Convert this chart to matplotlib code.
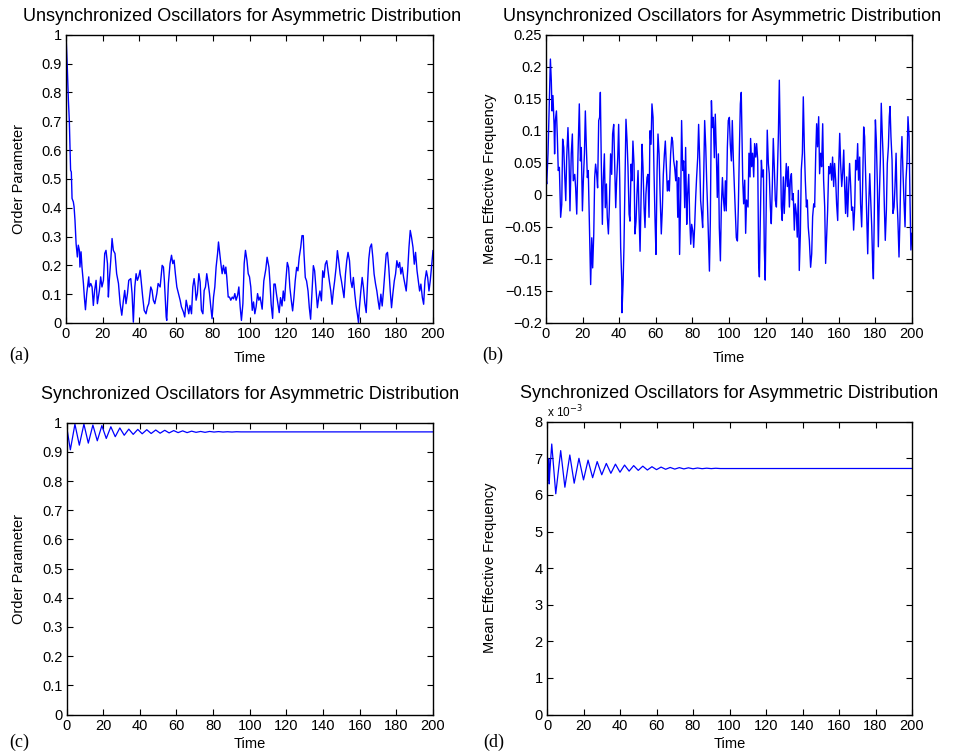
import numpy as np
import matplotlib
matplotlib.use('Agg')
import matplotlib.pyplot as plt
from matplotlib import font_manager
from matplotlib.ticker import FuncFormatter

# ---------------- data ----------------
time_a = [0.0, 0.7, 1.3, 1.8, 2.5, 2.9, 3.3, 4.0, 4.4, 4.9, 5.5, 6.2, 6.7, 7.3, 7.6, 8.2, 8.7, 9.5,
          10.0, 10.6, 11.3, 12.4, 12.7, 13.5, 14.2, 14.9, 15.6, 16.4, 17.1, 18.2, 18.9, 19.6, 20.4,
          21.1, 21.8, 22.6, 23.1, 23.6, 24.4, 25.1, 25.8, 26.7, 27.6, 28.6, 29.5, 30.4, 31.3, 32.0,
          32.7, 33.5, 34.2, 35.3, 36.0, 36.7, 37.5, 38.2, 38.9, 39.6, 40.4, 41.1, 41.8, 42.6, 43.6,
          44.4, 45.1, 46.2, 46.9, 47.6, 48.4, 49.5, 50.2, 51.3, 52.4, 53.1, 53.6, 54.6, 54.9, 55.8,
          56.7, 57.5, 58.2, 58.9, 59.6, 60.4, 61.3, 62.2, 62.9, 64.0, 64.7, 65.5, 66.2, 66.9, 67.6,
          68.4, 69.1, 69.8, 70.4, 70.9, 71.6, 72.4, 73.1, 73.8, 74.6, 75.3, 76.0, 76.7, 77.5, 78.2,
          78.9, 79.6, 80.4, 81.1, 81.8, 82.6, 83.1, 83.6, 84.4, 85.1, 85.8, 86.6, 87.1, 87.6, 88.4,
          89.1, 89.8, 90.6, 91.3, 92.0, 92.7, 93.5, 94.2, 94.9, 95.6, 96.4, 97.1, 97.8, 98.6, 99.3,
          100.0, 100.7, 101.5, 102.2, 102.9, 103.6, 104.4, 105.1, 105.8, 106.9, 107.8, 108.9,
          109.6, 110.6, 111.1, 111.8, 112.6, 113.3, 114.0, 114.7, 115.5, 116.2, 116.9, 117.7, 118.4,
          119.1, 119.8, 120.6, 121.3, 122.0, 122.8, 123.5, 124.2, 124.9, 125.7, 126.4, 127.1, 127.9,
          128.6, 129.3, 129.7, 130.4, 131.1, 131.9, 132.6, 133.3, 134.1, 134.8, 135.5, 136.2, 137.0,
          137.7, 138.4, 139.2, 139.9, 140.6, 141.3, 142.1, 142.8, 143.5, 144.3, 145.0, 145.7, 146.4,
          147.2, 147.9, 148.6, 149.4, 150.1, 150.8, 151.5, 152.3, 153.0, 153.7, 154.5, 155.2, 155.9,
          156.6, 157.4, 158.1, 158.8, 159.4, 159.9, 160.6, 161.4, 162.1, 162.8, 163.6, 164.3, 165.0,
          165.7, 166.5, 167.2, 167.9, 168.7, 169.4, 170.1, 170.8, 171.6, 172.3, 173.0, 173.8, 174.5,
          175.2, 175.9, 176.7, 177.4, 178.1, 178.9, 179.6, 180.3, 181.1, 181.8, 182.5, 183.2, 184.0,
          184.7, 185.4, 186.2, 186.9, 187.6, 188.3, 189.1, 189.8, 190.5, 191.3, 192.0, 192.7, 193.4,
          194.2, 194.9, 195.6, 196.4, 197.1, 197.8, 198.5, 199.3, 200.0]
order_unsync = [1.0, 0.889, 0.773, 0.704, 0.530, 0.524, 0.432, 0.420, 0.403, 0.356, 0.275, 0.229,
                0.270, 0.252, 0.194, 0.247, 0.194, 0.137, 0.090, 0.046, 0.102, 0.160, 0.125, 0.137,
                0.125, 0.061, 0.113, 0.148, 0.067, 0.113, 0.160, 0.125, 0.148, 0.241, 0.252, 0.206,
                0.090, 0.148, 0.218, 0.293, 0.252, 0.241, 0.171, 0.137, 0.067, 0.027, 0.079, 0.113,
                0.067, 0.102, 0.148, 0.154, 0.102, 0.003, 0.125, 0.171, 0.148, 0.160, 0.183, 0.137,
                0.090, 0.044, 0.032, 0.056, 0.067, 0.125, 0.113, 0.079, 0.067, 0.102, 0.137, 0.125,
                0.200, 0.194, 0.148, 0.021, 0.009, 0.137, 0.206, 0.235, 0.206, 0.218, 0.171, 0.125,
                0.102, 0.079, 0.056, 0.038, 0.021, 0.079, 0.056, 0.032, 0.061, 0.032, 0.125, 0.154,
                0.125, 0.079, 0.102, 0.171, 0.142, 0.044, 0.032, 0.113, 0.125, 0.171, 0.137, 0.102,
                0.056, 0.015, 0.090, 0.125, 0.194, 0.241, 0.281, 0.252, 0.206, 0.171, 0.200, 0.171,
                0.194, 0.160, 0.090, 0.090, 0.079, 0.090, 0.084, 0.102, 0.079, 0.096, 0.125, 0.056,
                0.009, 0.067, 0.206, 0.252, 0.218, 0.171, 0.160, 0.125, 0.044, 0.073, 0.032, 0.056,
                0.102, 0.079, 0.090, 0.048, 0.146, 0.187, 0.228, 0.193, 0.146, 0.065, 0.016, 0.135,
                0.135, 0.100, 0.065, 0.036, 0.088, 0.059, 0.111, 0.077, 0.146, 0.210, 0.193, 0.123,
                0.077, 0.042, 0.088, 0.146, 0.193, 0.181, 0.228, 0.262, 0.303, 0.303, 0.239, 0.158,
                0.146, 0.111, 0.053, 0.013, 0.111, 0.199, 0.181, 0.123, 0.053, 0.088, 0.111, 0.077,
                0.181, 0.158, 0.204, 0.216, 0.181, 0.146, 0.111, 0.065, 0.111, 0.146, 0.193, 0.251,
                0.216, 0.170, 0.146, 0.117, 0.088, 0.170, 0.216, 0.245, 0.216, 0.146, 0.123, 0.158,
                0.100, 0.059, 0.030, 0.001, 0.053, 0.106, 0.158, 0.123, 0.071, 0.036, 0.135, 0.222,
                0.262, 0.274, 0.228, 0.170, 0.135, 0.111, 0.077, 0.048, 0.100, 0.059, 0.111, 0.181,
                0.239, 0.245, 0.193, 0.111, 0.053, 0.100, 0.146, 0.170, 0.216, 0.193, 0.210, 0.170,
                0.193, 0.158, 0.135, 0.111, 0.181, 0.262, 0.321, 0.297, 0.262, 0.204, 0.245, 0.181,
                0.146, 0.111, 0.135, 0.088, 0.065, 0.146, 0.181, 0.158, 0.111, 0.146, 0.204, 0.251]

time_b = [0.0, 0.4, 1.1, 1.8, 2.4, 2.9, 3.3, 3.8, 4.4, 4.7, 5.1, 5.7, 6.2, 6.7, 7.3, 8.0, 8.6, 9.1,
          9.7, 10.2, 10.8, 11.3, 12.0, 12.6, 13.1, 13.8, 14.4, 14.9, 15.7, 16.2, 16.8, 17.5, 18.2,
          18.8, 19.3, 19.9, 20.4, 21.0, 21.5, 22.0, 22.6, 23.1, 23.7, 24.4, 25.0, 25.5, 26.1, 26.6,
          27.1, 27.7, 28.2, 28.8, 29.3, 29.7, 30.2, 30.8, 31.3, 31.9, 32.4, 33.0, 33.5, 34.1, 34.6,
          35.3, 35.9, 36.4, 37.0, 37.5, 38.1, 38.6, 39.2, 39.7, 40.3, 40.8, 41.4, 41.5, 42.1, 42.6,
          43.2, 43.7, 44.3, 44.8, 45.4, 45.9, 46.5, 47.0, 47.5, 48.1, 48.6, 49.2, 49.7, 50.3, 50.8,
          51.4, 51.9, 52.5, 53.0, 53.6, 54.1, 54.6, 55.2, 55.7, 56.3, 56.8, 57.4, 57.9, 58.5, 59.0,
          59.6, 60.1, 60.7, 61.2, 61.8, 62.3, 63.0, 63.6, 64.1, 64.7, 65.2, 65.8, 66.3, 66.9, 67.4,
          68.1, 68.7, 69.2, 69.8, 70.3, 70.9, 71.4, 72.0, 72.5, 73.0, 73.6, 74.1, 74.7, 75.2, 75.8,
          76.3, 76.9, 77.4, 78.0, 78.5, 79.1, 79.6, 80.2, 80.7, 81.2, 81.8, 82.3, 82.9, 83.4, 84.0,
          84.5, 85.1, 85.6, 86.2, 86.7, 87.3, 87.8, 88.3, 88.9, 89.3, 89.8, 90.4, 90.9, 91.4, 92.0,
          92.5, 93.1, 93.6, 94.2, 94.7, 95.3, 95.8, 96.4, 96.9, 97.5, 98.0, 98.5, 99.1, 99.6, 100.2,
          100.7, 101.3, 101.8, 102.4, 102.9, 103.5, 104.0, 104.6, 105.1, 105.7, 106.2, 106.7,
          107.5, 108.0, 108.6, 109.1, 109.6, 110.4, 110.9, 111.5, 111.8, 112.4, 112.9, 113.5,
          114.0, 114.6, 115.1, 115.7, 116.2, 116.6, 117.1, 117.7, 118.2, 118.8, 119.3, 119.8,
          120.4, 120.9, 121.5, 122.0, 122.6, 123.1, 123.7, 124.2, 124.8, 125.3, 125.9, 126.4,
          127.0, 127.5, 128.0, 128.6, 129.1, 129.7, 130.2, 130.8, 131.3, 131.9, 132.4, 133.0,
          133.5, 134.1, 134.6, 135.1, 135.7, 136.2, 136.8, 137.3, 137.9, 138.4, 139.0, 139.5,
          140.1, 140.6, 141.2, 141.7, 142.3, 142.8, 143.3, 143.9, 144.6, 145.2, 145.7, 146.3,
          146.8, 147.4, 147.9, 148.4, 149.0, 149.5, 150.1, 150.6, 151.2, 151.7, 152.3, 152.8,
          153.4, 153.9, 154.5, 155.0, 155.5, 156.1, 156.6, 157.2, 157.7, 158.3, 158.8, 159.4,
          159.9, 160.5, 161.0, 161.6, 162.1, 162.7, 163.2, 163.7, 164.3, 164.8, 165.4, 165.9,
          166.5, 167.0, 167.6, 168.1, 168.7, 169.2, 169.8, 170.3, 170.8, 171.4, 171.9, 172.5,
          173.0, 173.6, 174.1, 174.7, 175.2, 175.8, 176.3, 176.9, 177.4, 178.0, 178.5, 178.9,
          179.4, 180.0, 180.5, 181.1, 181.6, 182.1, 182.7, 183.2, 183.8, 184.3, 184.9, 185.4,
          186.0, 186.5, 187.1, 187.6, 188.0, 188.5, 189.1, 189.6, 190.2, 190.7, 191.3, 191.8,
          192.3, 192.9, 193.4, 194.0, 194.5, 195.1, 195.6, 196.2, 196.7, 197.3, 197.8, 198.4,
          198.9, 199.4, 200.0]
freq_unsync = [0.027, 0.017, 0.064, 0.147, 0.212, 0.178, 0.131, 0.155, 0.110, 0.064, 0.116, 0.131,
               0.090, 0.038, 0.043, -0.035, -0.015, 0.087, 0.074, 0.032, -0.009, 0.058, 0.105,
               0.053, -0.025, 0.064, 0.095, 0.022, 0.032, 0.011, -0.030, 0.064, 0.142, 0.053,
               0.074, -0.025, 0.022, 0.064, 0.131, 0.079, 0.027, 0.038, -0.046, -0.140, -0.067,
               -0.114, -0.061, 0.027, 0.048, 0.032, 0.011, 0.116, 0.121, 0.160, 0.053, -0.046,
               0.022, 0.064, -0.020, 0.017, -0.035, -0.061, -0.020, 0.064, 0.032, 0.095, 0.110,
               0.053, -0.020, 0.022, 0.058, 0.110, 0.022, -0.082, -0.134, -0.184, -0.140, -0.082,
               0.027, 0.118, 0.084, 0.043, -0.030, -0.041, 0.048, 0.022, 0.084, 0.048, -0.061,
               -0.041, 0.001, 0.038, -0.025, -0.088, -0.009, 0.079, 0.043, -0.020, -0.051, 0.001,
               0.027, 0.032, -0.035, 0.100, 0.079, 0.142, 0.121, 0.038, -0.041, -0.093, 0.038,
               0.095, 0.064, 0.006, -0.061, -0.020, 0.032, 0.064, 0.084, 0.043, 0.006, 0.022,
               0.006, 0.064, 0.090, 0.084, 0.053, 0.043, 0.022, 0.053, -0.035, 0.027, -0.093,
               -0.004, 0.116, 0.038, 0.053, -0.020, 0.074, -0.046, 0.001, 0.032, -0.035, -0.077,
               -0.046, -0.056, -0.082, -0.051, -0.004, 0.027, 0.058, 0.110, 0.053, -0.009, -0.030,
               -0.051, 0.032, 0.116, 0.074, 0.022, -0.020, -0.082, -0.119, -0.041, 0.147, 0.105,
               0.121, 0.058, 0.126, 0.064, -0.004, 0.064, -0.051, -0.103, -0.020, 0.027, -0.004,
               -0.025, 0.022, -0.025, 0.074, 0.116, 0.121, 0.079, 0.053, 0.116, 0.053, 0.017,
               -0.030, -0.067, -0.072, -0.020, 0.074, 0.142, 0.160, 0.023, -0.014, 0.023, -0.060,
               -0.008, -0.019, 0.065, 0.028, 0.088, 0.044, 0.065, 0.028, 0.080, 0.059, 0.080,
               0.054, -0.107, -0.128, -0.040, 0.054, 0.028, 0.039, -0.086, -0.133, -0.003, 0.101,
               0.049, 0.033, -0.019, -0.045, 0.018, 0.088, 0.039, -0.008, -0.019, 0.028, 0.096,
               0.179, 0.091, -0.019, -0.040, 0.028, -0.029, 0.018, 0.049, 0.013, 0.044, -0.019,
               0.023, 0.033, -0.008, 0.002, -0.055, -0.014, -0.029, -0.066, 0.007, -0.118, -0.060,
               0.039, 0.065, 0.153, 0.070, 0.023, -0.019, -0.008, -0.050, -0.071, -0.113, -0.092,
               -0.034, -0.014, -0.019, 0.065, 0.111, 0.075, 0.122, 0.033, 0.065, 0.044, 0.111,
               0.023, -0.019, -0.107, -0.060, -0.024, 0.044, 0.033, 0.049, 0.023, 0.059, 0.013,
               0.049, 0.023, -0.014, -0.040, 0.039, 0.096, 0.049, 0.013, 0.033, 0.070, 0.013,
               -0.029, 0.028, -0.034, 0.013, 0.049, 0.013, -0.024, -0.019, -0.055, -0.019, 0.054,
               0.039, 0.080, 0.023, 0.059, -0.014, -0.050, 0.013, 0.106, 0.091, 0.028, -0.019,
               -0.092, -0.019, 0.033, -0.003, -0.050, -0.107, -0.131, -0.029, 0.117, 0.085, 0.013,
               -0.081, -0.008, 0.054, 0.143, 0.091, 0.054, -0.019, -0.071, -0.024, 0.049, 0.075,
               0.122, 0.138, 0.091, 0.054, -0.029, -0.019, 0.013, 0.065, -0.008, -0.040, -0.097,
               -0.040, 0.054, 0.091, 0.033, -0.008, -0.050, 0.023, 0.054, 0.122, 0.091, -0.008,
               -0.086, -0.060]

# synchronized case: turning points of the damped oscillation
time_c = [0.0, 2.1, 4.6, 7.0, 9.5, 11.9, 14.4, 16.8, 19.3, 21.7, 24.2, 26.6, 29.1, 31.5, 34.0,
          36.4, 38.9, 41.3, 43.8, 46.2, 48.7, 51.1, 53.6, 56.0, 58.5, 60.9, 63.4, 65.8, 68.3,
          70.7, 73.2, 75.6, 78.1, 80.5, 83.0, 85.4, 87.9, 90.3, 92.8, 95.2, 200.0]
order_sync = [0.990, 0.907, 0.995, 0.923, 0.995, 0.930, 0.992, 0.938, 0.990, 0.946, 0.986, 0.952,
              0.982, 0.957, 0.978, 0.960, 0.977, 0.962, 0.976, 0.963, 0.975, 0.964, 0.974, 0.965,
              0.973, 0.966, 0.972, 0.966, 0.971, 0.967, 0.970, 0.967, 0.970, 0.968, 0.9695, 0.968,
              0.969, 0.968, 0.969, 0.9685, 0.9685]

time_d = [0.0, 0.2, 0.45, 0.7, 0.95, 1.2, 1.5, 2.6, 4.8, 7.5, 9.8, 12.5, 14.9, 17.5, 20.0, 22.5,
          25.0, 27.5, 30.0, 32.5, 35.0, 37.5, 40.0, 42.5, 45.0, 47.5, 50.0, 52.5, 55.0, 57.5, 60.0,
          62.5, 65.0, 67.5, 70.0, 72.5, 75.0, 77.5, 80.0, 82.5, 85.0, 87.5, 90.0, 92.5, 95.0, 200.0]
freq_sync_e3 = [6.90, 6.45, 7.00, 6.40, 6.98, 6.30, 6.60, 7.39, 6.03, 7.21, 6.21, 7.09, 6.32, 7.00,
                6.41, 6.95, 6.47, 6.91, 6.55, 6.86, 6.59, 6.84, 6.62, 6.815, 6.65, 6.80, 6.67,
                6.785, 6.68, 6.77, 6.69, 6.76, 6.70, 6.75, 6.705, 6.745, 6.71, 6.74, 6.713, 6.735,
                6.716, 6.73, 6.718, 6.728, 6.72, 6.722]

x_ticks = list(range(0, 201, 20))
order_ticks = [0, 0.1, 0.2, 0.3, 0.4, 0.5, 0.6, 0.7, 0.8, 0.9, 1.0]
freq_ticks_b = [-0.2, -0.15, -0.1, -0.05, 0, 0.05, 0.1, 0.15, 0.2, 0.25]
freq_ticks_d = [0, 1, 2, 3, 4, 5, 6, 7, 8]   # in units of 1e-3

title_unsync = 'Unsynchronized Oscillators for Asymmetric Distribution'
title_sync = 'Synchronized Oscillators for Asymmetric Distribution'

# ---------------- style ----------------
names = {f.name for f in font_manager.fontManager.ttflist}
tick_family = 'Liberation Sans Narrow' if 'Liberation Sans Narrow' in names else 'Liberation Sans'
plt.rcParams['font.family'] = ['Liberation Sans', 'DejaVu Sans']
plt.rcParams['axes.unicode_minus'] = True

W, H = 956, 754
fig = plt.figure(figsize=(W / 100, H / 100), dpi=100)


def px_axes(l, t, r, b):
    return fig.add_axes([l / W, 1 - b / H, (r - l) / W, (b - t) / H])


def fmt_g(v, pos=None):
    s = '%g' % v
    return s.replace('-', '\u2212')


def style(ax, yticks, ylim, ylabel, yfmt, xlabelpad):
    ax.set_xlim(0, 200)
    ax.set_ylim(*ylim)
    ax.set_xticks(x_ticks)
    ax.set_yticks(yticks)
    ax.xaxis.set_major_formatter(FuncFormatter(fmt_g))
    ax.yaxis.set_major_formatter(FuncFormatter(yfmt))
    ax.tick_params(direction='in', top=True, right=True, length=4, width=0.8,
                   labelsize=10.5, pad=3)
    for lab in ax.get_xticklabels() + ax.get_yticklabels():
        lab.set_family([tick_family, 'DejaVu Sans'])
    for sp in ax.spines.values():
        sp.set_linewidth(1.0)
    ax.set_xlabel('Time', fontsize=10.5, labelpad=xlabelpad)
    ax.set_ylabel(ylabel, fontsize=10.5)


blue = '#0000ff'

ax_a = px_axes(66, 34.7, 433, 323)
ax_a.plot(time_a, order_unsync, color=blue, lw=1.0)
style(ax_a, order_ticks, (0, 1), 'Order Parameter', fmt_g, 7)
ax_a.set_title(title_unsync, fontsize=13, pad=10, x=0.481)
ax_a.yaxis.set_label_coords(-0.11, 0.5)

ax_b = px_axes(546, 34.7, 912, 323)
ax_b.plot(time_b, freq_unsync, color=blue, lw=1.0)
style(ax_b, freq_ticks_b, (-0.2, 0.25), 'Mean Effective Frequency', fmt_g, 7)
ax_b.set_title(title_unsync, fontsize=13, pad=10, x=0.481)
ax_b.yaxis.set_label_coords(-0.135, 0.5)

ax_c = px_axes(66.5, 422.7, 433, 714.5)
ax_c.plot(time_c, order_sync, color=blue, lw=0.9, solid_joinstyle='round')
style(ax_c, order_ticks, (0, 1), 'Order Parameter', fmt_g, 3)
ax_c.set_title(title_sync, fontsize=13, pad=17)
ax_c.yaxis.set_label_coords(-0.11, 0.5)

ax_d = px_axes(547, 421.7, 912, 714.5)
ax_d.plot(time_d, np.array(freq_sync_e3) * 1e-3, color=blue, lw=0.9, solid_joinstyle='round')
style(ax_d, [v * 1e-3 for v in freq_ticks_d], (0, 8e-3), 'Mean Effective Frequency',
      lambda v, pos=None: fmt_g(round(v * 1e3, 6)), 3)
ax_d.set_title(title_sync, fontsize=13, pad=17)
ax_d.yaxis.set_label_coords(-0.138, 0.5)
ax_d.text(0.0, 1.004, r'x 10$^{-3}$', transform=ax_d.transAxes, fontsize=8.5,
          ha='left', va='bottom')

for lab, xp, yp in [('(a)', 19, 355), ('(b)', 493, 355), ('(c)', 19, 742), ('(d)', 494, 742)]:
    fig.text(xp / W, 1 - yp / H, lab, family=['Liberation Serif', 'DejaVu Serif'],
             fontsize=13, ha='center', va='center')

fig.savefig('out.png', dpi=100)
